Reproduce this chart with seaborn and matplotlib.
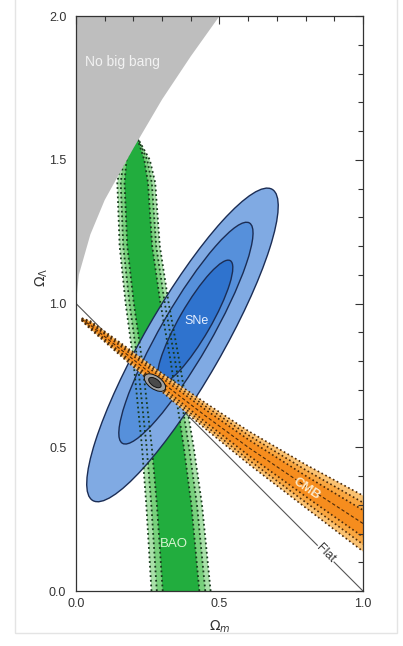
import matplotlib
matplotlib.use('Agg')
import matplotlib.pyplot as plt
import seaborn as sns
from matplotlib.patches import Ellipse, Polygon, Rectangle
from matplotlib.ticker import MultipleLocator

# ---------------------------------------------------------------
# data (Omega_m, Omega_Lambda)
# ---------------------------------------------------------------
# "no big bang" boundary
nbb_om = [0.0, 0.01, 0.05, 0.10, 0.20, 0.30, 0.40, 0.50]
nbb_ol = [1.00, 1.10, 1.24, 1.36, 1.54, 1.71, 1.86, 2.00]

# BAO band: centre / half width along Omega_Lambda
bao_ol = [0.0, 0.3, 0.5, 0.8, 1.0, 1.2, 1.42, 1.5, 1.58]
bao_center = [0.366, 0.342, 0.320, 0.280, 0.248, 0.222, 0.210, 0.207, 0.212]
bao_half = [0.103, 0.097, 0.090, 0.080, 0.075, 0.070, 0.066, 0.050, 0.0]
bao_levels = [1.0, 0.82, 0.62]
bao_colors = ['#a8e0a8', '#78d07c', '#22ad3e']

# CMB band: centre / half width along Omega_m
cmb_om = [0.02, 0.05, 0.15, 0.30, 0.45, 0.60, 0.80, 1.00]
cmb_center = [0.945, 0.925, 0.845, 0.725, 0.610, 0.500, 0.365, 0.235]
cmb_half = [0.004, 0.014, 0.022, 0.032, 0.045, 0.057, 0.075, 0.097]
cmb_levels = [1.0, 0.75, 0.48]
cmb_colors = ['#fbc272', '#f9a640', '#f68d1e']

# SNe ellipses (outer -> inner)
sne_cx = [0.371, 0.383, 0.415]
sne_cy = [0.856, 0.897, 0.937]
sne_width = [1.25, 0.885, 0.49]
sne_height = [0.27, 0.175, 0.11]
sne_angle = 60
sne_colors = ['#80aae3', '#5690db', '#2f73ce']

# combined constraint
comb_center = (0.275, 0.725)
comb_width = [0.085, 0.05]
comb_height = [0.045, 0.026]
comb_angle = -35
comb_colors = ['#a0a0a0', '#4a4a4a']

flat_om = [0.0, 1.0]
flat_ol = [1.0, 0.0]

# ---------------------------------------------------------------
sns.set_theme(style='white')
plt.rcParams['font.family'] = ['Liberation Sans', 'DejaVu Sans']

fig = plt.figure(figsize=(4.03, 6.46), dpi=100)
ax = fig.add_axes([0.1886, 0.0851, 0.7121, 0.8901])

# faint frame of the screenshot
fig.patches.append(Rectangle((0.037, 0.02), 0.948, 0.99, transform=fig.transFigure,
                             fill=False, edgecolor='#e4e4e4', lw=1.0))

# no big bang region
nbb_poly = [(0.0, 2.0)] + list(zip(nbb_om, nbb_ol))
ax.add_patch(Polygon(nbb_poly, closed=True, facecolor='#bebebe', edgecolor='none', zorder=6))
ax.text(0.03, 1.84, 'No big bang', color='#f2f2f2', fontsize=10, ha='left', va='center', zorder=8)

# flat line
sns.lineplot(x=flat_om, y=flat_ol, ax=ax, color='#555555', lw=0.8, sort=False,
             estimator=None, zorder=2.5)

# BAO
for lev, col in zip(bao_levels, bao_colors):
    left = [c - h * lev for c, h in zip(bao_center, bao_half)]
    right = [c + h * lev for c, h in zip(bao_center, bao_half)]
    pts = list(zip(left, bao_ol)) + list(zip(right[::-1], bao_ol[::-1]))
    ax.add_patch(Polygon(pts, closed=True, facecolor=col, edgecolor='none', zorder=2))
    for edge in (left, right):
        ax.plot(edge, bao_ol, color='#173a1c', lw=1.3, linestyle=(0, (1, 1.6)), zorder=4)

# SNe
for cx, cy, w, h, col in zip(sne_cx, sne_cy, sne_width, sne_height, sne_colors):
    ax.add_patch(Ellipse((cx, cy), w, h, angle=sne_angle, facecolor=col,
                         edgecolor='#1b2d55', lw=1.0, zorder=3))
ax.text(0.42, 0.94, 'SNe', color='#e8f0ff', fontsize=9, ha='center', va='center', zorder=8)

# CMB
for lev, col in zip(cmb_levels, cmb_colors):
    upper = [c + h * lev for c, h in zip(cmb_center, cmb_half)]
    lower = [c - h * lev for c, h in zip(cmb_center, cmb_half)]
    pts = list(zip(cmb_om, upper)) + list(zip(cmb_om[::-1], lower[::-1]))
    ax.add_patch(Polygon(pts, closed=True, facecolor=col, edgecolor='none', zorder=4.5))
    for edge in (upper, lower):
        ax.plot(cmb_om, edge, color='#4a2a0a', lw=1.2, linestyle=(0, (1, 1.6)), zorder=5)
ax.plot(cmb_om, cmb_center, color='#4a2a0a', lw=0.8, linestyle=(0, (3, 2)), zorder=5)

# combined
for w, h, col in zip(comb_width, comb_height, comb_colors):
    ax.add_patch(Ellipse(comb_center, w, h, angle=comb_angle, facecolor=col,
                         edgecolor='#111111', lw=0.7, zorder=7))

ax.text(0.34, 0.165, 'BAO', color='#d6f3d0', fontsize=9.5, ha='center', va='center', zorder=8)
ax.text(0.805, 0.355, 'CMB', color='#fde9c8', fontsize=9.5, fontweight='bold', rotation=-34,
        rotation_mode='anchor', ha='center', va='center', zorder=8)
ax.text(0.87, 0.13, 'Flat', color='#333333', fontsize=9, rotation=-45,
        rotation_mode='anchor', ha='center', va='center', zorder=8,
        bbox=dict(facecolor='white', edgecolor='none', pad=0.5))

# axes
ax.set_xlim(0, 1)
ax.set_ylim(0, 2)
ax.set_xticks([0.0, 0.5, 1.0])
ax.set_yticks([0.0, 0.5, 1.0, 1.5, 2.0])
ax.set_xticklabels(['0.0', '0.5', '1.0'])
ax.set_yticklabels(['0.0', '0.5', '1.0', '1.5', '2.0'])
ax.xaxis.set_minor_locator(MultipleLocator(0.1))
ax.yaxis.set_minor_locator(MultipleLocator(0.1))
ax.tick_params(which='both', direction='in', top=True, right=True, color='#333333',
               labelcolor='#333333', labelsize=9, width=0.8)
ax.tick_params(which='major', length=6)
ax.tick_params(which='minor', length=3.5)
ax.tick_params(axis='y', pad=7)
ax.tick_params(axis='x', pad=5)
ax.xaxis.set_zorder(10)
ax.yaxis.set_zorder(10)
for sp in ax.spines.values():
    sp.set_color('#333333')
    sp.set_linewidth(0.9)
    sp.set_zorder(10)

ax.set_xlabel(r'$\Omega_m$', fontsize=10, color='#333333', labelpad=6)
ax.set_ylabel(r'$\Omega_\Lambda$', fontsize=10, color='#333333')
ax.yaxis.set_label_coords(-0.09, 0.545)

fig.savefig('out.png', dpi=100)
